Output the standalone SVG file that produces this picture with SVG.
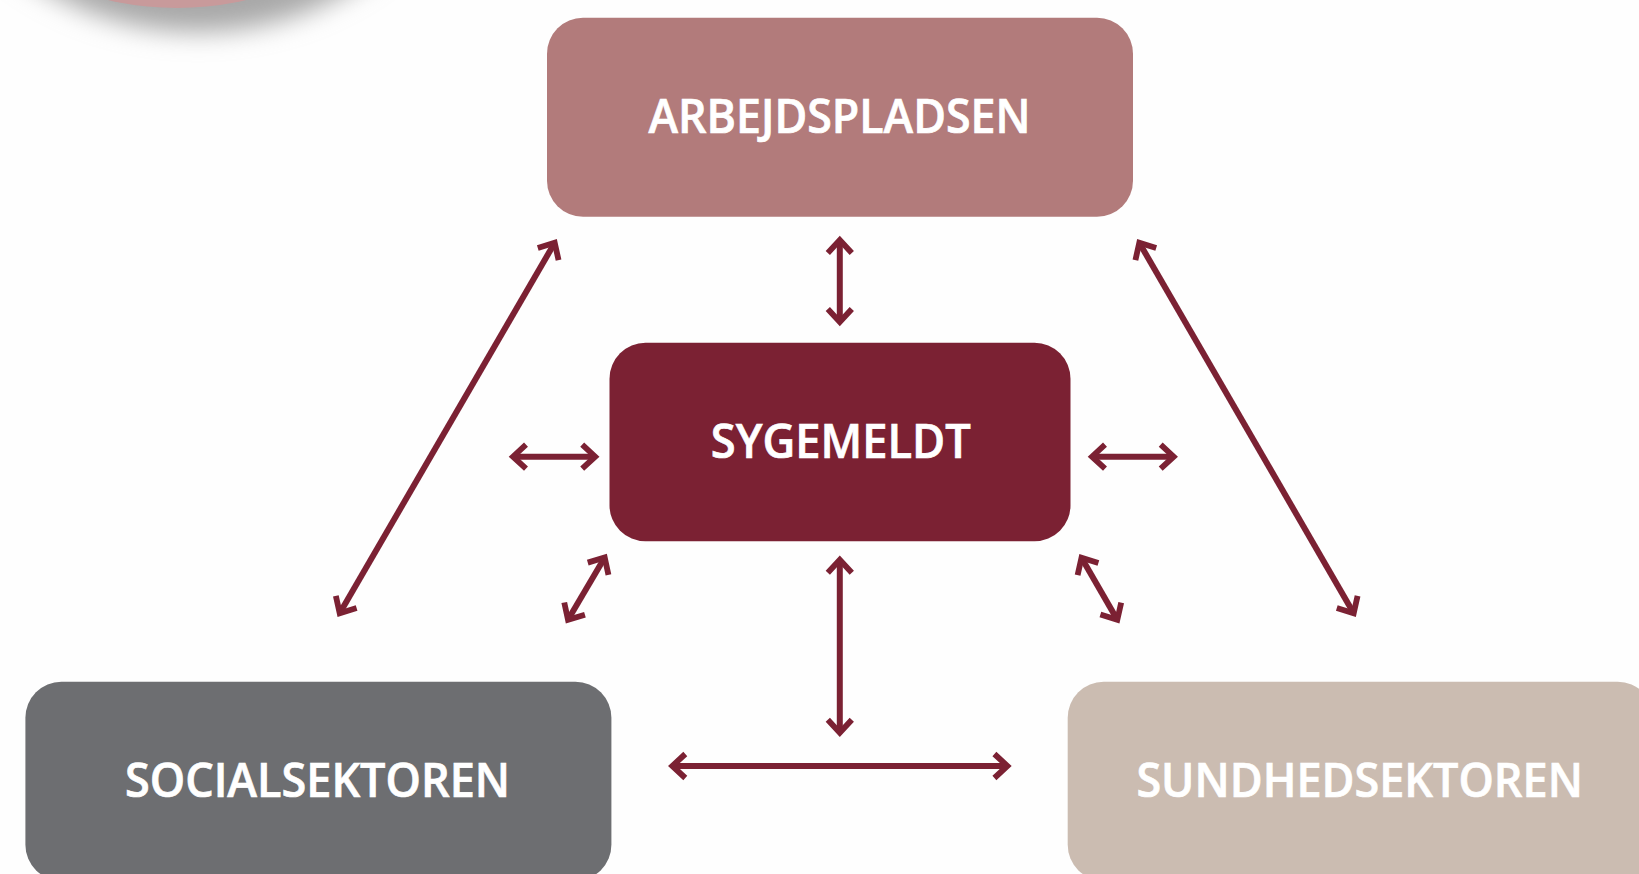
<svg xmlns="http://www.w3.org/2000/svg" width="1639" height="874" viewBox="0 0 1639 874">
<style>
.box{stroke:none}
.lbl{font-family:"Open Sans","Noto Sans","Liberation Sans",sans-serif;font-weight:600;font-size:47.5px;fill:#fff;stroke:#fff;stroke-width:.7px}
.arr{stroke:#7b2133;stroke-width:6;fill:none;marker-start:url(#h);marker-end:url(#h)}
</style>
<defs>
<marker id="h" markerUnits="userSpaceOnUse" markerWidth="40" markerHeight="40" refX="20" refY="20" orient="auto-start-reverse" viewBox="0 0 40 40" overflow="visible">
<path d="M7,8 L20,20 L7,32" fill="none" stroke="#7b2133" stroke-width="5.8"/>
</marker>
<filter id="blur" x="-20%" y="-20%" width="140%" height="140%"><feGaussianBlur stdDeviation="13"/></filter>
</defs>
<rect width="1639" height="874" fill="#fefefe"/>
<g id="disc">
<circle cx="198" cy="-268" r="300" fill="#a8a8a8" filter="url(#blur)"/>
<circle cx="177" cy="-294" r="302" fill="#c89a9b"/>
</g>
<g id="connectors">
<line class="arr" x1="839.8" y1="240" x2="839.8" y2="322"/>
<line class="arr" x1="839.8" y1="559.7" x2="839.8" y2="732.7"/>
<line class="arr" x1="513" y1="456.7" x2="595.2" y2="456.7"/>
<line class="arr" x1="1092" y1="456.7" x2="1173.7" y2="456.7"/>
<line class="arr" x1="672.3" y1="766" x2="1007.4" y2="766"/>
<line class="arr" x1="1139.3" y1="242.8" x2="1353.7" y2="613.2"/>
<line class="arr" x1="554.7" y1="242.8" x2="339.7" y2="613.2"/>
<line class="arr" x1="604.7" y1="557.5" x2="568" y2="619.8"/>
<line class="arr" x1="1081.5" y1="557.8" x2="1117.3" y2="619.8"/>
</g>
<g id="arbejdspladsen">
<rect class="box" x="547" y="17.8" width="586" height="199" rx="36" fill="#b27b7b"/>
<text class="lbl" x="648.5" y="133.3" textLength="382" lengthAdjust="spacingAndGlyphs">ARBEJDSPLADSEN</text>
</g>
<g id="sygemeldt">
<rect class="box" x="609.5" y="342.7" width="461" height="198.6" rx="36" fill="#7b2133"/>
<text class="lbl" x="710.8" y="458" textLength="260" lengthAdjust="spacingAndGlyphs">SYGEMELDT</text>
</g>
<g id="socialsektoren">
<rect class="box" x="25.4" y="681.7" width="586" height="199" rx="36" fill="#6d6e71"/>
<text class="lbl" x="125" y="797.3" textLength="385" lengthAdjust="spacingAndGlyphs">SOCIALSEKTOREN</text>
</g>
<g id="sundhedsektoren">
<rect class="box" x="1067.7" y="681.7" width="586" height="199" rx="36" fill="#cbbcb1"/>
<text class="lbl" x="1136.4" y="797.3" textLength="446.5" lengthAdjust="spacingAndGlyphs">SUNDHEDSEKTOREN</text>
</g>
</svg>
